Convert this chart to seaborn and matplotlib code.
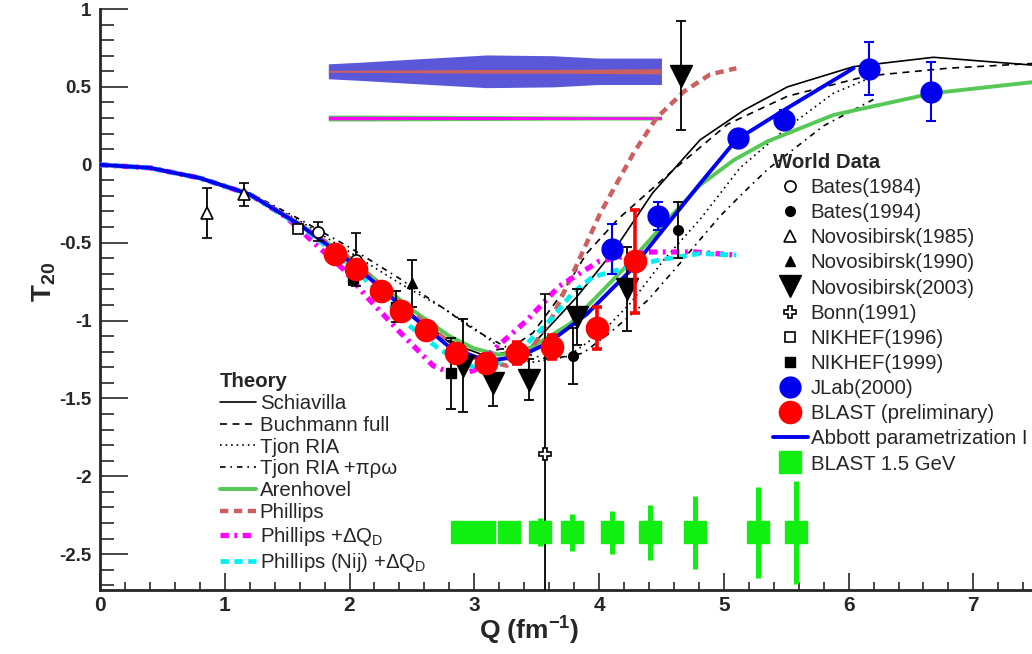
import matplotlib
matplotlib.use('Agg')
import matplotlib.pyplot as plt
import seaborn as sns
from matplotlib.lines import Line2D
from matplotlib.ticker import MultipleLocator, FuncFormatter

sns.set_style('ticks')
plt.rcParams['font.family'] = ['Liberation Sans', 'DejaVu Sans']
plt.rcParams['mathtext.fontset'] = 'custom'
plt.rcParams['mathtext.rm'] = 'Liberation Sans'
plt.rcParams['mathtext.it'] = 'Liberation Sans:italic'
plt.rcParams['mathtext.bf'] = 'Liberation Sans:bold'
plt.rcParams['lines.scale_dashes'] = False

# ---------------- theory curves (Q in fm^-1, T20) ----------------
schiavilla_q = [0, 0.4, 0.8, 1.2, 1.6, 2.0, 2.5, 2.8, 3.1, 3.45, 3.82, 4.12, 4.43, 4.81, 5.16, 5.51, 6.04, 6.68, 7.47]
schiavilla_t = [0, -0.02, -0.085, -0.19, -0.385, -0.62, -0.96, -1.14, -1.23, -1.17, -0.85, -0.55, -0.18, 0.16, 0.35, 0.50, 0.63, 0.69, 0.64]

buchmann_q = [0, 0.4, 0.8, 1.2, 1.6, 2.0, 2.5, 2.8, 3.1, 3.3, 3.47, 3.7, 3.9, 4.15, 4.6, 5.03, 5.51, 6.15, 6.8, 7.47]
buchmann_t = [0, -0.02, -0.085, -0.19, -0.385, -0.62, -0.96, -1.13, -1.2, -1.17, -1.08, -0.83, -0.57, -0.35, -0.03, 0.26, 0.44, 0.57, 0.62, 0.65]

tjon_q = [0, 0.4, 0.8, 1.2, 1.6, 2.0, 2.4, 2.75, 3.0, 3.2, 3.45, 3.75, 4.03, 4.25, 4.52, 4.81, 5.13, 5.51, 5.88, 6.15]
tjon_t = [0, -0.02, -0.085, -0.185, -0.36, -0.56, -0.76, -0.92, -1.05, -1.17, -1.27, -1.23, -1.07, -0.89, -0.61, -0.35, -0.02, 0.24, 0.46, 0.55]

tjon_prw_q = [0, 0.4, 0.8, 1.2, 1.6, 2.0, 2.4, 2.75, 3.0, 3.3, 3.6, 3.87, 4.1, 4.39, 4.63, 4.81, 4.97, 5.13, 5.35, 5.8, 6.2]
tjon_prw_t = [0, -0.02, -0.08, -0.18, -0.35, -0.53, -0.73, -0.92, -1.06, -1.19, -1.25, -1.21, -1.07, -0.87, -0.65, -0.48, -0.33, -0.2, -0.03, 0.25, 0.42]

arenhovel_q = [0, 0.4, 0.8, 1.2, 1.6, 2.0, 2.5, 2.8, 3.0, 3.2, 3.4, 3.77, 4.22, 4.52, 4.81, 5.08, 5.35, 5.88, 6.68, 7.47]
arenhovel_t = [0, -0.02, -0.085, -0.19, -0.38, -0.6, -0.93, -1.1, -1.18, -1.22, -1.2, -1.02, -0.65, -0.38, -0.13, 0.03, 0.15, 0.32, 0.46, 0.53]

phillips_q = [0, 0.4, 0.8, 1.2, 1.6, 2.0, 2.5, 2.8, 3.0, 3.26, 3.45, 3.63, 3.8, 4.01, 4.28, 4.46, 4.68, 4.89, 5.1]
phillips_t = [0, -0.02, -0.085, -0.19, -0.38, -0.6, -0.95, -1.14, -1.24, -1.29, -1.19, -0.97, -0.68, -0.31, 0.08, 0.30, 0.47, 0.58, 0.62]

phillips_dq_q = [0, 0.4, 0.8, 1.2, 1.5, 1.74, 1.95, 2.14, 2.41, 2.67, 2.85, 3.0, 3.18, 3.42, 3.68, 4.0, 4.38, 4.76, 5.1]
phillips_dq_t = [0, -0.02, -0.085, -0.19, -0.34, -0.52, -0.67, -0.85, -1.08, -1.29, -1.35, -1.32, -1.17, -1.0, -0.78, -0.62, -0.56, -0.56, -0.58]

phillips_nij_q = [0, 0.4, 0.8, 1.2, 1.6, 2.0, 2.25, 2.49, 2.73, 3.02, 3.2, 3.42, 3.63, 3.79, 3.95, 4.22, 4.49, 4.81, 5.1]
phillips_nij_t = [0, -0.02, -0.085, -0.19, -0.39, -0.64, -0.83, -1.04, -1.19, -1.31, -1.27, -1.15, -0.98, -0.82, -0.72, -0.66, -0.61, -0.57, -0.58]

abbott_q = [0, 0.4, 0.8, 1.2, 1.6, 2.0, 2.25, 2.5, 2.8, 3.1, 3.37, 3.6, 3.9, 4.25, 4.55, 4.8, 5.1, 5.48, 5.75, 6.04]
abbott_t = [0, -0.02, -0.085, -0.19, -0.385, -0.62, -0.79, -0.97, -1.17, -1.26, -1.23, -1.14, -0.96, -0.68, -0.38, -0.13, 0.16, 0.35, 0.48, 0.62]

# ---------------- world data ----------------
bates84_q = [1.75, 2.05]
bates84_t = [-0.43, -0.61]
bates84_e = [0.06, 0.17]

bates94_q = [3.79, 4.63]
bates94_t = [-1.23, -0.42]
bates94_e = [0.18, 0.18]

novo85_q = [0.86, 1.155]
novo85_t = [-0.31, -0.19]
novo85_e = [0.16, 0.075]

novo90_q = [2.50]
novo90_t = [-0.76]
novo90_e = [0.15]

novo03_q = [2.91, 3.15, 3.44, 3.82, 4.22, 4.66]
novo03_t = [-1.29, -1.40, -1.38, -0.98, -0.80, 0.57]
novo03_e = [0.30, 0.15, 0.13, 0.18, 0.27, 0.35]

bonn_q = [3.57]
bonn_t = [-1.86]
bonn_e = [1.03]

nikhef96_q = [1.59]
nikhef96_t = [-0.41]
nikhef96_e = [0.02]

nikhef99_q = [2.03, 2.37, 2.81]
nikhef99_t = [-0.73, -0.91, -1.34]
nikhef99_e = [0.04, 0.10, 0.23]

jlab_q = [4.10, 4.47, 5.11, 5.48, 6.16, 6.66]
jlab_t = [-0.54, -0.33, 0.17, 0.29, 0.615, 0.47]
jlab_e = [0.16, 0.09, 0.05, 0.06, 0.17, 0.19]

blast_q = [1.88, 2.05, 2.25, 2.41, 2.61, 2.85, 3.09, 3.34, 3.62, 3.98, 4.29]
blast_t = [-0.57, -0.67, -0.81, -0.94, -1.06, -1.21, -1.27, -1.21, -1.17, -1.05, -0.62]
blast_e = [0.03, 0.03, 0.03, 0.03, 0.04, 0.04, 0.05, 0.07, 0.08, 0.135, 0.33]

# projected BLAST 1.5 GeV uncertainties
blast15_q = [2.90, 3.08, 3.28, 3.53, 3.78, 4.10, 4.41, 4.77, 5.27, 5.58]
blast15_t = [-2.36, -2.36, -2.36, -2.36, -2.36, -2.36, -2.36, -2.36, -2.36, -2.36]
blast15_e = [0.05, 0.05, 0.05, 0.09, 0.12, 0.14, 0.175, 0.235, 0.29, 0.33]

# systematic bands at the top
band_q = [1.83, 2.08, 2.5, 3.1, 3.63, 3.99, 4.5]
band_blue_c = 0.6
band_blue_half = [0.048, 0.058, 0.078, 0.105, 0.10, 0.085, 0.085]
band_red_half = [0.006, 0.007, 0.009, 0.012, 0.012, 0.014, 0.017]
band_green_c = 0.3
band_green_half = [0.019, 0.019, 0.018, 0.016, 0.014, 0.013, 0.013]
band_mag_half = [0.011, 0.011, 0.010, 0.010, 0.009, 0.008, 0.008]

# ---------------- figure ----------------
fig = plt.figure(figsize=(10.32, 6.54), dpi=100)
ax = fig.add_axes([100 / 1032, 64 / 654, 932 / 1032, 581 / 654])

c_blue = '#0000ee'
c_green = '#55c855'
c_red_d = '#cc6060'
c_mag = '#ff00ff'
c_cyan = '#00f0f0'
c_g15 = '#11ee11'

ax.fill_between(band_q, [band_blue_c - h for h in band_blue_half], [band_blue_c + h for h in band_blue_half],
                color='#5a58d8', lw=0, zorder=2)
ax.fill_between(band_q, [band_blue_c - h for h in band_red_half], [band_blue_c + h for h in band_red_half],
                color=c_red_d, lw=0, zorder=2)
ax.fill_between(band_q, [band_green_c - h for h in band_green_half], [band_green_c + h for h in band_green_half],
                color='#5ad05a', lw=0, zorder=2)
ax.fill_between(band_q, [band_green_c - h for h in band_mag_half], [band_green_c + h for h in band_mag_half],
                color=c_mag, lw=0, zorder=2)

theory = [
    (schiavilla_q, schiavilla_t, 'Schiavilla', 'black', 1.2, None),
    (buchmann_q, buchmann_t, 'Buchmann full', 'black', 1.2, (5, 4)),
    (tjon_q, tjon_t, 'Tjon RIA', 'black', 1.2, (1.2, 2.8)),
    (tjon_prw_q, tjon_prw_t, 'Tjon RIA +πρω', 'black', 1.2, (4, 3.5, 1.2, 3.5)),
    (arenhovel_q, arenhovel_t, 'Arenhovel', c_green, 2.8, None),
    (phillips_q, phillips_t, 'Phillips', c_red_d, 3.2, (6, 4)),
    (phillips_dq_q, phillips_dq_t, 'Phillips +Δ$\\mathrm{Q_D}$', c_mag, 3.8, (6, 4, 2, 4)),
    (phillips_nij_q, phillips_nij_t, 'Phillips (Nij) +Δ$\\mathrm{Q_D}$', c_cyan, 3.4, (6, 4)),
]
theory_handles = []
theory_labels = []
for q, t, lab, col, lw, dash in theory:
    sns.lineplot(x=q, y=t, ax=ax, color=col, lw=lw, sort=False, estimator=None, zorder=3)
    ln = ax.lines[-1]
    if dash is not None:
        ln.set_dashes(dash)
    theory_handles.append(ln)
    theory_labels.append(lab)

sns.lineplot(x=abbott_q, y=abbott_t, ax=ax, color=c_blue, lw=2.8, sort=False, estimator=None, zorder=4)
abbott_line = ax.lines[-1]

ebk = dict(ecolor='black', elinewidth=1.3, capsize=3.5, capthick=1.3, ls='none', zorder=5)
ax.errorbar(bates84_q, bates84_t, yerr=bates84_e, marker='o', ms=8, mfc='white', mec='black', mew=1.2, **ebk)
ax.errorbar(bates94_q, bates94_t, yerr=bates94_e, marker='o', ms=7, mfc='black', mec='black', **ebk)
ax.errorbar(novo85_q, novo85_t, yerr=novo85_e, marker='^', ms=9, mfc='white', mec='black', mew=1.2, **ebk)
ax.errorbar(novo90_q, novo90_t, yerr=novo90_e, marker='^', ms=7, mfc='black', mec='black', **ebk)
ax.errorbar(novo03_q, novo03_t, yerr=novo03_e, marker='v', ms=16, mfc='black', mec='black', **ebk)
ax.errorbar(bonn_q, bonn_t, yerr=bonn_e, marker='P', ms=8, mfc='white', mec='black', mew=1.2, **ebk)
ax.errorbar(nikhef96_q, nikhef96_t, yerr=nikhef96_e, marker='s', ms=7.5, mfc='white', mec='black', mew=1.2, **ebk)
ax.errorbar(nikhef99_q, nikhef99_t, yerr=nikhef99_e, marker='s', ms=7, mfc='black', mec='black', **ebk)
ax.errorbar(jlab_q, jlab_t, yerr=jlab_e, marker='o', ms=15, mfc=c_blue, mec=c_blue, ecolor=c_blue,
            elinewidth=1.5, capsize=3.5, capthick=1.5, ls='none', zorder=6)
ax.errorbar(blast_q, blast_t, yerr=blast_e, marker='o', ms=16, mfc='#ff0000', mec='#ff0000', ecolor='#ff0000',
            elinewidth=2.6, capsize=3.5, capthick=2.6, ls='none', zorder=7)
blast15 = ax.errorbar(blast15_q, blast15_t, yerr=blast15_e, marker='s', ms=16.5, mfc=c_g15, mec=c_g15,
                      ecolor=c_g15, elinewidth=3.6, capsize=0, ls='none', zorder=5)

# axes
ax.set_xlim(0, 7.47)
ax.set_ylim(-2.73, 1.0)
ax.spines['top'].set_visible(False)
ax.spines['right'].set_visible(False)
ax.spines['left'].set_linewidth(2)
ax.spines['bottom'].set_linewidth(2)
ax.xaxis.set_major_locator(MultipleLocator(1))
ax.xaxis.set_minor_locator(MultipleLocator(0.2))
ax.yaxis.set_major_locator(MultipleLocator(0.5))
ax.yaxis.set_minor_locator(MultipleLocator(0.1))
fmt = FuncFormatter(lambda v, p: '%g' % v)
ax.xaxis.set_major_formatter(fmt)
ax.yaxis.set_major_formatter(fmt)
ax.tick_params(axis='y', which='major', direction='in', length=20, width=1.2, pad=6)
ax.tick_params(axis='y', which='minor', direction='in', length=10, width=1.2)
ax.tick_params(axis='x', which='major', direction='in', length=12, width=1.2, pad=4)
ax.tick_params(axis='x', which='minor', direction='in', length=6, width=1.2)
for lab in ax.get_yticklabels():
    lab.set_fontweight('bold')
    lab.set_fontsize(13.5)
for lab in ax.get_xticklabels():
    lab.set_fontweight('bold')
    lab.set_fontsize(15)

ax.set_ylabel(r'T$_\mathbf{20}$', fontsize=20, fontweight='bold')
ax.yaxis.set_label_coords(-0.045, 0.53)
ax.set_xlabel(r'Q (fm$^\mathbf{-1}$)', fontsize=19, fontweight='bold')
ax.xaxis.set_label_coords(0.461, -0.043)

# legends
world_handles = [
    Line2D([], [], ls='none', marker='o', ms=8, mfc='white', mec='black', mew=1.2),
    Line2D([], [], ls='none', marker='o', ms=7, mfc='black', mec='black'),
    Line2D([], [], ls='none', marker='^', ms=9, mfc='white', mec='black', mew=1.2),
    Line2D([], [], ls='none', marker='^', ms=7, mfc='black', mec='black'),
    Line2D([], [], ls='none', marker='v', ms=16, mfc='black', mec='black'),
    Line2D([], [], ls='none', marker='P', ms=8, mfc='white', mec='black', mew=1.2),
    Line2D([], [], ls='none', marker='s', ms=7.5, mfc='white', mec='black', mew=1.2),
    Line2D([], [], ls='none', marker='s', ms=7, mfc='black', mec='black'),
    Line2D([], [], ls='none', marker='o', ms=15, mfc=c_blue, mec=c_blue),
    Line2D([], [], ls='none', marker='o', ms=16, mfc='#ff0000', mec='#ff0000'),
    abbott_line,
    blast15,
]
world_labels = ['Bates(1984)', 'Bates(1994)', 'Novosibirsk(1985)', 'Novosibirsk(1990)', 'Novosibirsk(2003)',
                'Bonn(1991)', 'NIKHEF(1996)', 'NIKHEF(1999)', 'JLab(2000)', 'BLAST (preliminary)',
                'Abbott parametrization I', 'BLAST 1.5 GeV']

leg_w = ax.legend(world_handles, world_labels, loc='upper left', bbox_to_anchor=(773 / 1032, 1 - 153 / 654),
                  bbox_transform=fig.transFigure, frameon=False, fontsize=14.7, handlelength=1.7,
                  handletextpad=0.15, labelspacing=0.3, borderpad=0, borderaxespad=0,
                  title='World Data', title_fontproperties={'weight': 'bold', 'size': 14.7}, alignment='left')
ax.add_artist(leg_w)

leg_t = ax.legend(theory_handles, theory_labels, loc='upper left', bbox_to_anchor=(220 / 1032, 1 - 372 / 654),
                  bbox_transform=fig.transFigure, frameon=False, fontsize=14.7, handlelength=1.75,
                  handletextpad=0.2, labelspacing=0.14, borderpad=0, borderaxespad=0,
                  title='Theory', title_fontproperties={'weight': 'bold', 'size': 14.7}, alignment='left')

fig.savefig('out.png', dpi=100)
